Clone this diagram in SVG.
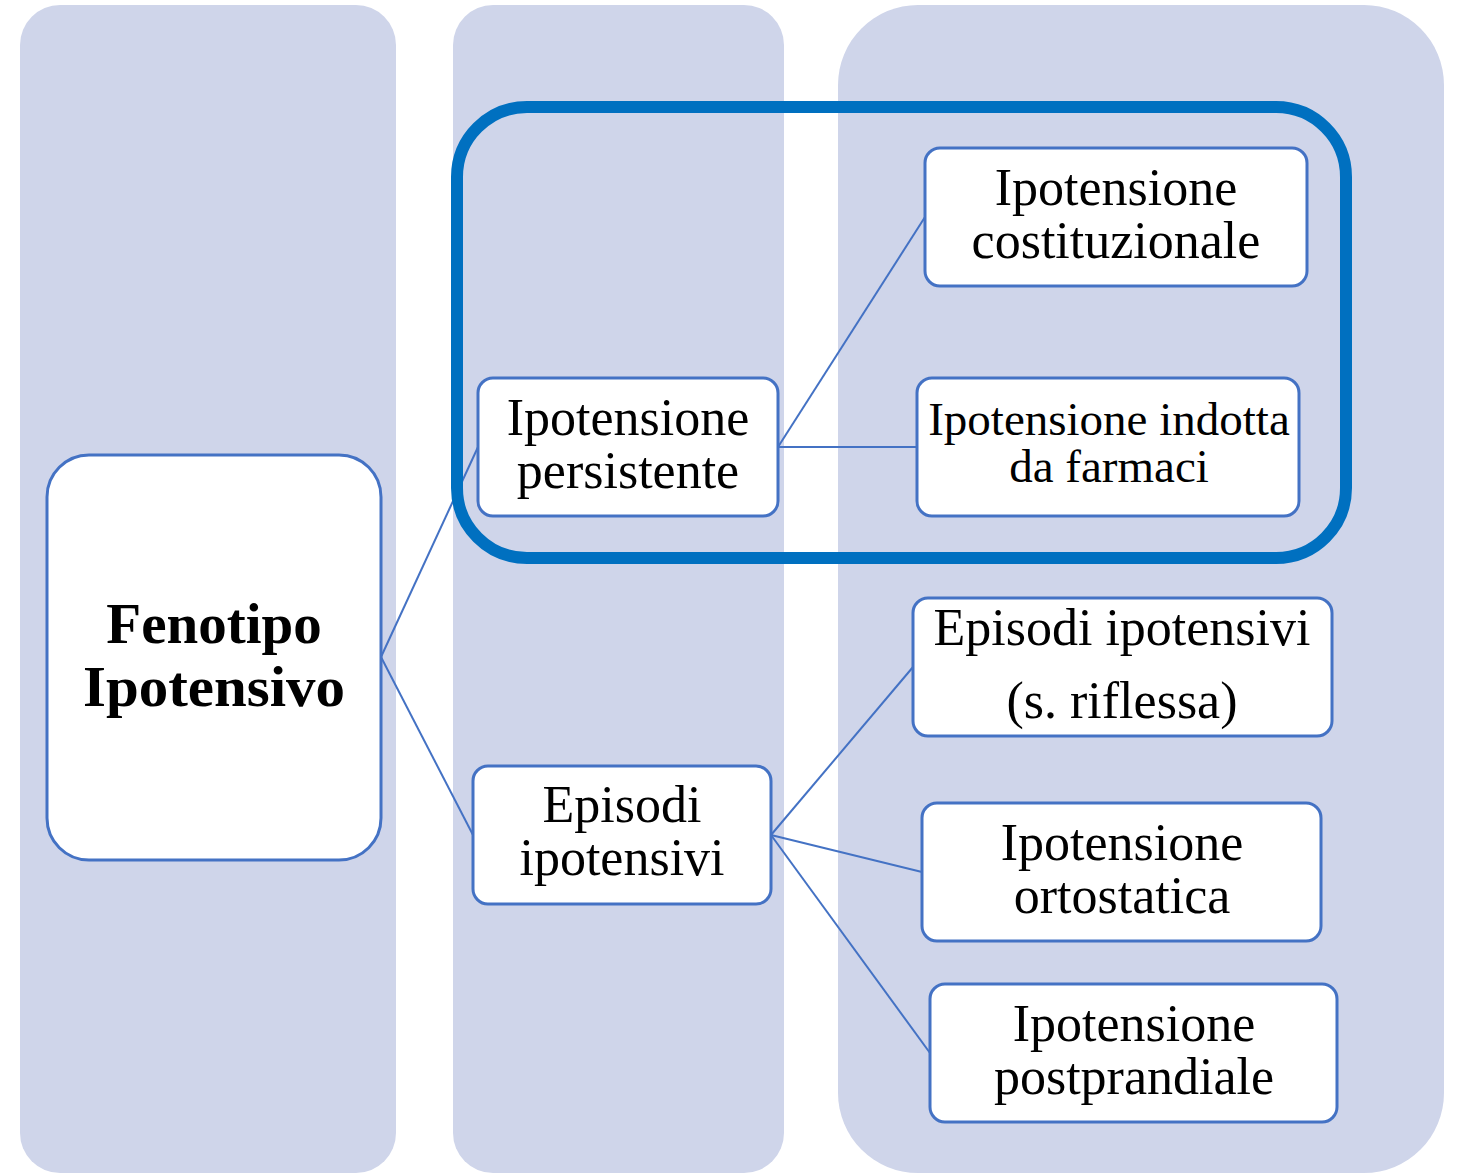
<svg xmlns="http://www.w3.org/2000/svg" width="1458" height="1173" viewBox="0 0 1458 1173">
<style>
.col{fill:#CFD5EA;}
.node{fill:#FFFFFF;stroke:#4472C4;stroke-width:3;}
.conn{stroke:#4472C4;stroke-width:2;fill:none;}
.hl{fill:none;stroke:#0070C0;stroke-width:12;}
text{font-family:"Liberation Serif","DejaVu Serif",serif;fill:#000;text-anchor:middle;}
.t{font-size:52px;}
.ts{font-size:47px;}
.tb{font-size:57px;font-weight:bold;}
</style>
<rect width="1458" height="1173" fill="#FFFFFF"/>
<g id="columns">
<rect class="col" x="20" y="5" width="376" height="1168" rx="40"/>
<rect class="col" x="453" y="5" width="331" height="1168" rx="40"/>
<rect class="col" x="838" y="5" width="606" height="1168" rx="80"/>
</g>
<g id="connectors">
<line class="conn" x1="381" y1="657" x2="478" y2="447"/>
<line class="conn" x1="381" y1="657" x2="473" y2="835"/>
<line class="conn" x1="778" y1="447" x2="925" y2="217"/>
<line class="conn" x1="778" y1="447" x2="917" y2="447"/>
<line class="conn" x1="771" y1="835" x2="913" y2="667"/>
<line class="conn" x1="771" y1="835" x2="922" y2="872"/>
<line class="conn" x1="771" y1="835" x2="930" y2="1053"/>
</g>
<g id="n-fenotipo">
<rect class="node" x="47" y="455" width="334" height="405" rx="42"/>
<text class="tb" x="214" y="643">Fenotipo</text>
<text class="tb" x="214" y="706" textLength="262" lengthAdjust="spacingAndGlyphs">Ipotensivo</text>
</g>
<g id="n-persistente">
<rect class="node" x="478" y="378" width="300" height="138" rx="15"/>
<text class="t" x="628" y="435">Ipotensione</text>
<text class="t" x="628" y="488">persistente</text>
</g>
<g id="n-episodi">
<rect class="node" x="473" y="766" width="298" height="138" rx="15"/>
<text class="t" x="622" y="822">Episodi</text>
<text class="t" x="622" y="875">ipotensivi</text>
</g>
<g id="n-costituzionale">
<rect class="node" x="925" y="148" width="382" height="138" rx="15"/>
<text class="t" x="1116" y="205">Ipotensione</text>
<text class="t" x="1116" y="258">costituzionale</text>
</g>
<g id="n-farmaci">
<rect class="node" x="917" y="378" width="382" height="138" rx="15"/>
<text class="ts" x="1109" y="435">Ipotensione indotta</text>
<text class="ts" x="1109" y="482">da farmaci</text>
</g>
<g id="n-riflessa">
<rect class="node" x="913" y="598" width="419" height="138" rx="15"/>
<text class="t" x="1122" y="645">Episodi ipotensivi</text>
<text class="t" x="1122" y="718">(s. riflessa)</text>
</g>
<g id="n-ortostatica">
<rect class="node" x="922" y="803" width="399" height="138" rx="15"/>
<text class="t" x="1122" y="860">Ipotensione</text>
<text class="t" x="1122" y="913">ortostatica</text>
</g>
<g id="n-postprandiale">
<rect class="node" x="930" y="984" width="407" height="138" rx="15"/>
<text class="t" x="1134" y="1041">Ipotensione</text>
<text class="t" x="1134" y="1094">postprandiale</text>
</g>
<g id="highlight">
<rect class="hl" x="457" y="107" width="889" height="451" rx="70"/>
</g>
</svg>
